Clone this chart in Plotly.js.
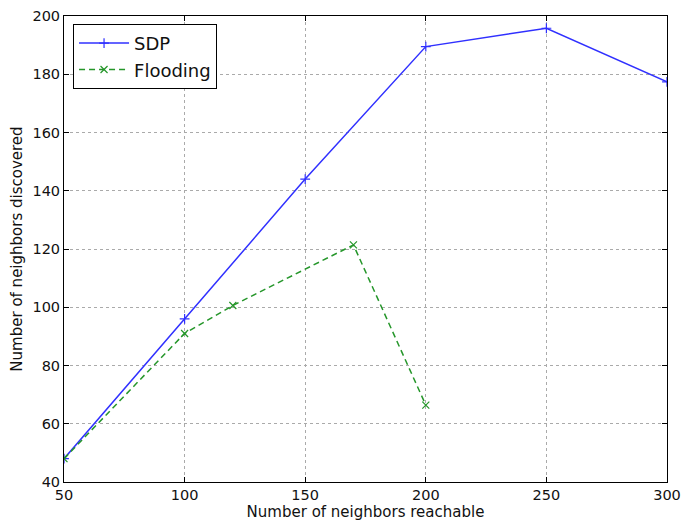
<!DOCTYPE html>
<html>
<head>
<meta charset="utf-8">
<script src="https://cdn.plot.ly/plotly-3.0.1.min.js"></script>
<style>html,body{margin:0;padding:0;background:#fff;}#chart{width:683px;height:521px;}</style>
</head>
<body>
<div id="chart"></div>
<script>
const sdpX = [50, 100, 150, 200, 250, 300];
const sdpY = [48, 96, 144, 189.5, 195.8, 177.4];
const floodX = [50, 100, 120, 170, 200];
const floodY = [48, 91, 100.6, 121.4, 66.4];
const xTicks = [50, 100, 150, 200, 250, 300];
const yTicks = [40, 60, 80, 100, 120, 140, 160, 180, 200];

const font = 'DejaVu Sans, sans-serif';
const traces = [
  {x: sdpX, y: sdpY, name: 'SDP', mode: 'lines+markers', type: 'scatter',
   line: {color: '#3030ff', width: 1.5},
   marker: {symbol: 'cross-thin', size: 7, line: {color: '#3030ff', width: 1.2}}},
  {x: floodX, y: floodY, name: 'Flooding', mode: 'lines+markers', type: 'scatter',
   line: {color: '#25962a', width: 1.5, dash: '6px,4px'},
   marker: {symbol: 'x-thin', size: 7, line: {color: '#25962a', width: 1.2}}}
];
const axisCommon = {
  showline: true, linecolor: '#000', linewidth: 1, mirror: 'ticks',
  ticks: 'inside', ticklen: 5, tickcolor: '#000',
  showgrid: true, gridcolor: '#aaa', gridwidth: 1, griddash: 'dot',
  zeroline: false, tickfont: {family: font, size: 14.5, color: '#111'}
};
const layout = {
  width: 683, height: 521,
  margin: {l: 64, r: 16, t: 16, b: 39},
  paper_bgcolor: '#fff', plot_bgcolor: '#fff',
  showlegend: true,
  legend: {x: 0.015, y: 0.983, xanchor: 'left', yanchor: 'top',
    bordercolor: '#000', borderwidth: 1, bgcolor: '#fff', itemwidth: 50,
    font: {family: font, size: 18, color: '#111'}},
  xaxis: Object.assign({}, axisCommon, {
    range: [50, 300], tickvals: xTicks, ticktext: xTicks.map(String),
    title: {text: 'Number of neighbors reachable', font: {family: font, size: 15, color: '#111'}, standoff: 3}
  }),
  yaxis: Object.assign({}, axisCommon, {
    range: [40, 200], tickvals: yTicks, ticktext: yTicks.map(String),
    title: {text: 'Number of neighbors discovered', font: {family: font, size: 15, color: '#111'}, standoff: 6}
  })
};
Plotly.newPlot('chart', traces, layout, {displayModeBar: false, staticPlot: true});
</script>
</body>
</html>
